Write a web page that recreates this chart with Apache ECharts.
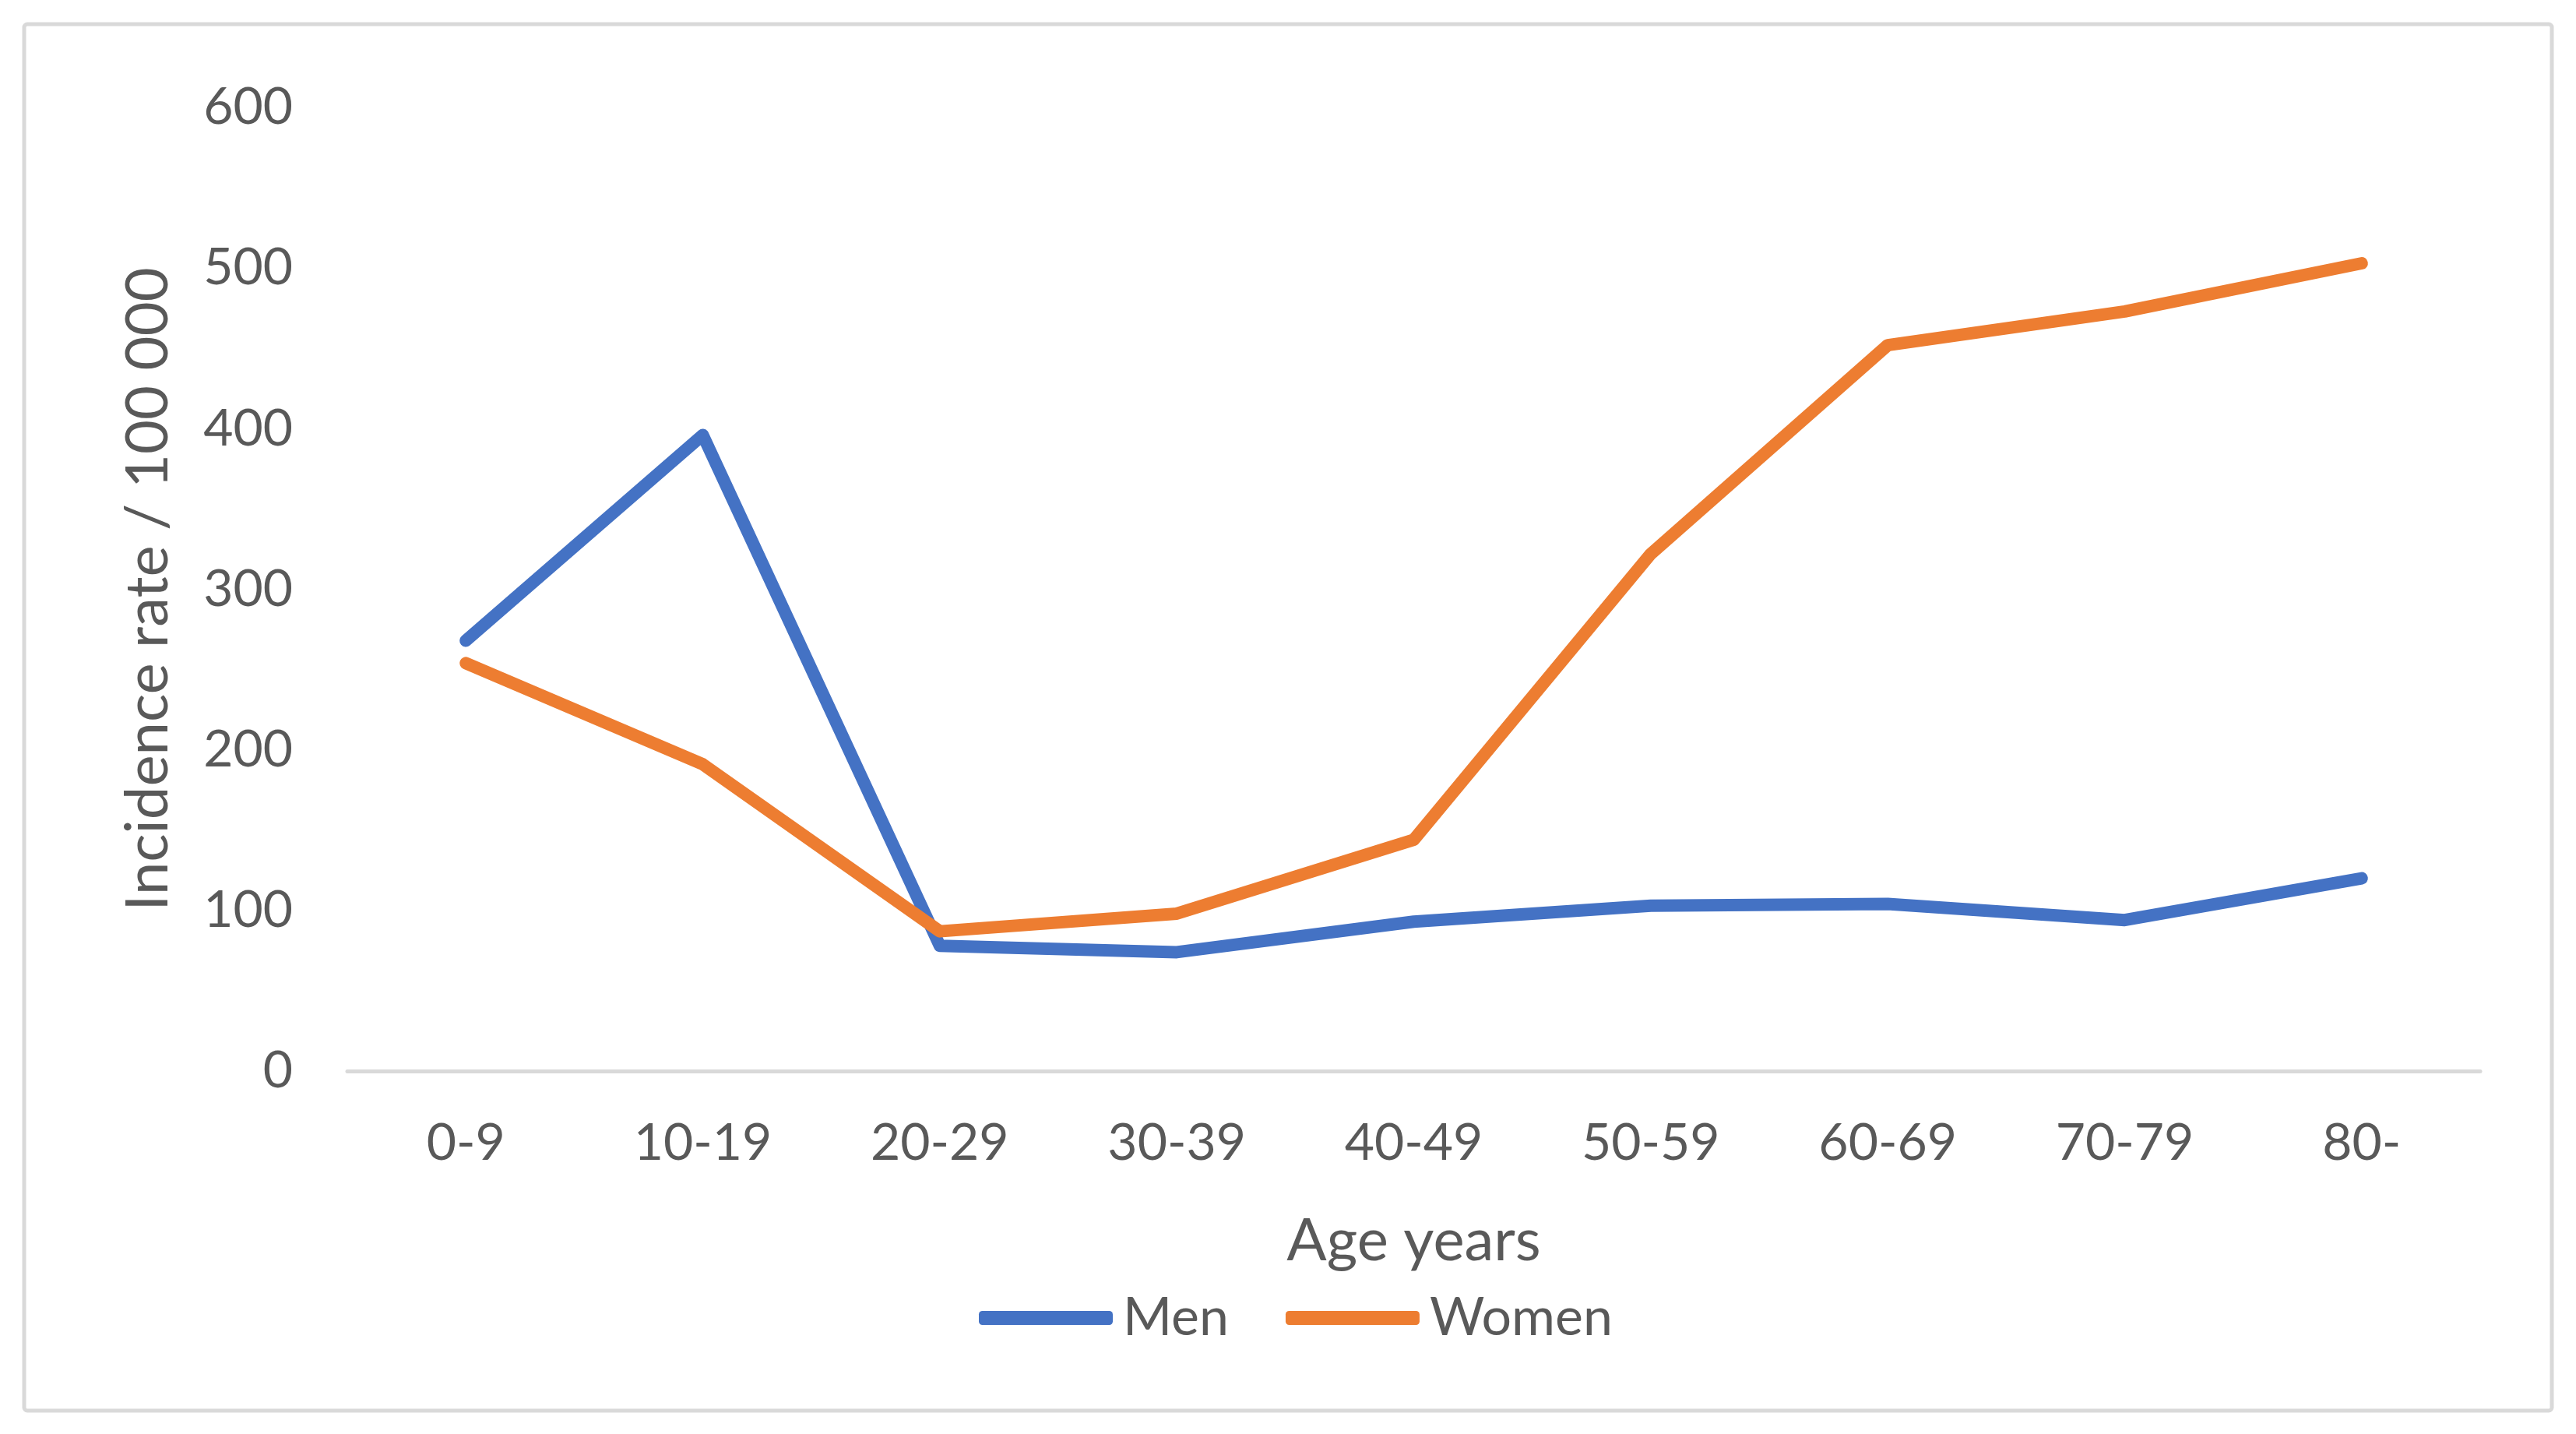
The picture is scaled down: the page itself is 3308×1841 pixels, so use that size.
<!DOCTYPE html>
<html>
<head>
<meta charset="utf-8">
<script src="https://cdn.jsdelivr.net/npm/echarts@6/dist/echarts.min.js"></script>
<style>
html,body{margin:0;padding:0;background:#fff;}
#chart{width:3308px;height:1841px;}
</style>
</head>
<body>
<div id="chart"></div>
<script>
const categories = ['0-9','10-19','20-29','30-39','40-49','50-59','60-69','70-79','80-'];
const menValues = [268, 396, 78, 74, 93, 103, 104, 94, 120];
const womenValues = [254, 191, 87, 98, 144, 322, 452, 473, 503];
const seriesNames = ['Men', 'Women'];
const yAxisName = 'Incidence rate / 100 000';
const xAxisName = 'Age years';

const FONT = 'Lato';
const TXT = '#595959';
const chart = echarts.init(document.getElementById('chart'));
chart.setOption({
  backgroundColor: '#ffffff',
  animation: false,
  graphic: [{
    type: 'rect',
    shape: {x: 31, y: 31, width: 3246, height: 1780, r: 4},
    style: {fill: 'none', stroke: '#D9D9D9', lineWidth: 5},
    silent: true
  }],
  grid: {left: 446, right: 123, top: 138, bottom: 466, containLabel: false},
  legend: {
    data: seriesNames,
    left: 1252,
    top: 1653,
    icon: 'roundRect',
    itemWidth: 172,
    itemHeight: 18,
    itemGap: 73,
    textStyle: {fontFamily: FONT, fontSize: 68, color: TXT, padding: [0, 0, 0, 8]}
  },
  xAxis: {
    type: 'category',
    data: categories,
    boundaryGap: true,
    name: xAxisName,
    nameLocation: 'middle',
    nameGap: 180,
    nameTextStyle: {fontFamily: FONT, fontSize: 76, color: TXT},
    axisLine: {show: true, lineStyle: {color: '#D9D9D9', width: 5}},
    axisTick: {show: false},
    axisLabel: {fontFamily: FONT, fontSize: 66, color: TXT, margin: 60}
  },
  yAxis: {
    type: 'value',
    min: 0,
    max: 600,
    interval: 100,
    name: yAxisName,
    nameLocation: 'middle',
    nameGap: 218,
    nameTextStyle: {fontFamily: FONT, fontSize: 76, color: TXT},
    axisLine: {show: false},
    axisTick: {show: false},
    splitLine: {show: false},
    axisLabel: {fontFamily: FONT, fontSize: 66, color: TXT, margin: 70}
  },
  series: [
    {
      name: seriesNames[0],
      type: 'line',
      data: menValues,
      symbol: 'none',
      itemStyle: {color: '#4472C4'},
      lineStyle: {color: '#4472C4', width: 16, cap: 'round', join: 'round'}
    },
    {
      name: seriesNames[1],
      type: 'line',
      data: womenValues,
      symbol: 'none',
      itemStyle: {color: '#ED7D31'},
      lineStyle: {color: '#ED7D31', width: 16, cap: 'round', join: 'round'}
    }
  ]
});
</script>
</body>
</html>
